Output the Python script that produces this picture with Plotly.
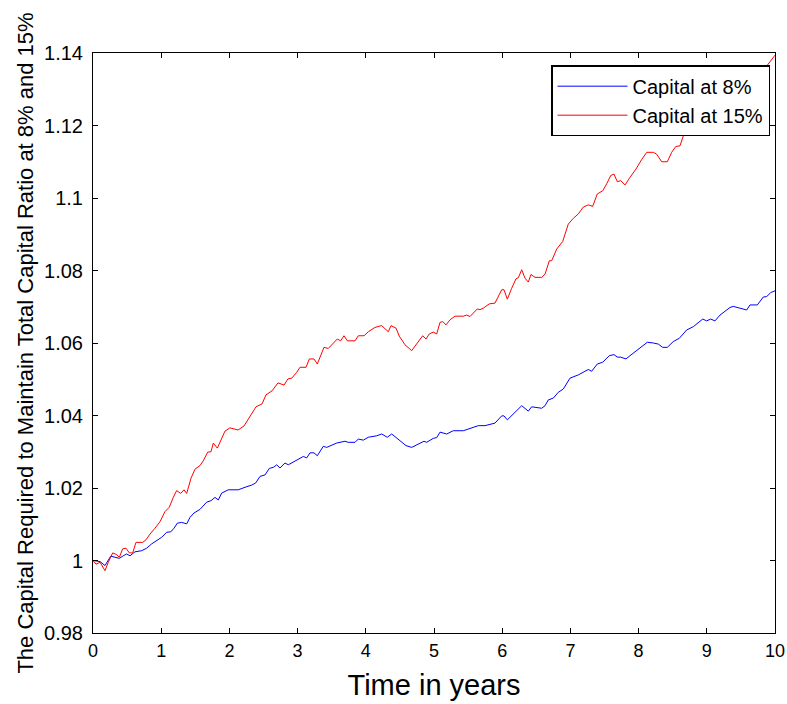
import plotly.graph_objects as go

# Time (years) and capital values for the 8% series
t_8 = [0, 0.044, 0.103, 0.176, 0.260, 0.323, 0.386, 0.444, 0.494, 0.543,
       0.616, 0.714, 0.787, 0.861, 0.934, 1.007, 1.081, 1.139, 1.188, 1.236,
       1.301, 1.374, 1.422, 1.481, 1.569, 1.667, 1.730, 1.789, 1.837, 1.887,
       1.984, 2.130, 2.229, 2.327, 2.386, 2.449, 2.522, 2.585, 2.644, 2.694,
       2.742, 2.815, 2.864, 3.010, 3.084, 3.133, 3.182, 3.240, 3.289, 3.377,
       3.427, 3.573, 3.647, 3.695, 3.743, 3.842, 3.890, 3.963, 4.037, 4.160,
       4.233, 4.315, 4.380, 4.501, 4.589, 4.673, 4.770, 4.853, 4.893, 4.990,
       5.040, 5.088, 5.186, 5.283, 5.430, 5.503, 5.650, 5.748, 5.894, 5.993,
       6.026, 6.075, 6.202, 6.286, 6.383, 6.432, 6.579, 6.628, 6.676, 6.749,
       6.823, 6.896, 6.994, 7.116, 7.214, 7.262, 7.312, 7.394, 7.474, 7.570,
       7.639, 7.688, 7.738, 7.815, 7.874, 7.972, 8.128, 8.216, 8.289, 8.353,
       8.421, 8.509, 8.597, 8.705, 8.802, 8.940, 8.999, 9.057, 9.120, 9.194,
       9.340, 9.389, 9.512, 9.585, 9.633, 9.741, 9.829, 9.878, 9.937, 10.0]
capital_8 = [1.0000, 0.9999, 0.9997, 0.9986, 1.0012, 1.0009, 1.0006, 1.0013, 1.0018, 1.0013,
             1.0024, 1.0027, 1.0034, 1.0046, 1.0055, 1.0064, 1.0078, 1.0079, 1.0089, 1.0103,
             1.0105, 1.0101, 1.0119, 1.0131, 1.0141, 1.0161, 1.0165, 1.0174, 1.0167, 1.0186,
             1.0195, 1.0195, 1.0202, 1.0208, 1.0214, 1.0232, 1.0236, 1.0254, 1.0257, 1.0264,
             1.0255, 1.0269, 1.0264, 1.0280, 1.0287, 1.0283, 1.0297, 1.0297, 1.0289, 1.0315,
             1.0312, 1.0324, 1.0326, 1.0329, 1.0326, 1.0326, 1.0335, 1.0332, 1.0340, 1.0344,
             1.0349, 1.0340, 1.0349, 1.0330, 1.0317, 1.0312, 1.0321, 1.0329, 1.0326, 1.0337,
             1.0339, 1.0354, 1.0349, 1.0358, 1.0358, 1.0363, 1.0372, 1.0372, 1.0379, 1.0399,
             1.0399, 1.0388, 1.0413, 1.0427, 1.0412, 1.0424, 1.0420, 1.0427, 1.0443, 1.0448,
             1.0464, 1.0473, 1.0503, 1.0512, 1.0522, 1.0527, 1.0522, 1.0542, 1.0547, 1.0565,
             1.0568, 1.0561, 1.0561, 1.0556, 1.0565, 1.0579, 1.0602, 1.0600, 1.0597, 1.0588,
             1.0588, 1.0604, 1.0613, 1.0636, 1.0645, 1.0666, 1.0661, 1.0666, 1.0661, 1.0677,
             1.0698, 1.0701, 1.0695, 1.0691, 1.0705, 1.0705, 1.0727, 1.0728, 1.0739, 1.0744]

# Time (years) and capital values for the 15% series
t_15 = [0, 0.044, 0.103, 0.176, 0.224, 0.289, 0.348, 0.386, 0.435, 0.484,
        0.532, 0.582, 0.630, 0.729, 0.777, 0.836, 0.909, 0.982, 1.056, 1.119,
        1.177, 1.227, 1.286, 1.334, 1.374, 1.437, 1.496, 1.569, 1.617, 1.682,
        1.730, 1.764, 1.823, 1.877, 1.935, 2.009, 2.126, 2.214, 2.302, 2.390,
        2.478, 2.537, 2.625, 2.713, 2.801, 2.859, 2.914, 2.987, 3.035, 3.123,
        3.172, 3.240, 3.289, 3.387, 3.450, 3.582, 3.632, 3.680, 3.729, 3.842,
        3.890, 3.974, 4.037, 4.135, 4.233, 4.330, 4.370, 4.443, 4.491, 4.575,
        4.673, 4.746, 4.834, 4.883, 4.931, 4.990, 5.040, 5.088, 5.128, 5.176,
        5.235, 5.308, 5.430, 5.479, 5.528, 5.635, 5.674, 5.723, 5.811, 5.894,
        5.993, 6.026, 6.075, 6.139, 6.202, 6.236, 6.286, 6.334, 6.383, 6.422,
        6.481, 6.579, 6.628, 6.691, 6.726, 6.799, 6.887, 6.969, 7.043, 7.116,
        7.189, 7.262, 7.327, 7.394, 7.474, 7.532, 7.591, 7.639, 7.688, 7.738,
        7.801, 7.874, 7.962, 8.045, 8.119, 8.216, 8.265, 8.339, 8.421, 8.485,
        8.544, 8.607, 8.655, 8.724, 8.900, 9.194, 9.487, 9.780, 9.916, 10.0]
capital_15 = [1.0000, 0.9990, 0.9995, 0.9972, 0.9995, 1.0021, 1.0016, 1.0009, 1.0032, 1.0034,
              1.0021, 1.0021, 1.0050, 1.0050, 1.0057, 1.0073, 1.0089, 1.0107, 1.0135, 1.0147,
              1.0174, 1.0193, 1.0185, 1.0195, 1.0185, 1.0227, 1.0252, 1.0262, 1.0275, 1.0299,
              1.0300, 1.0324, 1.0310, 1.0335, 1.0357, 1.0366, 1.0360, 1.0371, 1.0396, 1.0424,
              1.0432, 1.0457, 1.0468, 1.0490, 1.0484, 1.0501, 1.0503, 1.0519, 1.0533, 1.0533,
              1.0556, 1.0556, 1.0542, 1.0588, 1.0585, 1.0611, 1.0606, 1.0620, 1.0606, 1.0606,
              1.0620, 1.0620, 1.0631, 1.0643, 1.0648, 1.0631, 1.0648, 1.0641, 1.0619, 1.0595,
              1.0579, 1.0597, 1.0620, 1.0611, 1.0625, 1.0630, 1.0625, 1.0657, 1.0659, 1.0650,
              1.0664, 1.0674, 1.0674, 1.0677, 1.0673, 1.0694, 1.0692, 1.0696, 1.0708, 1.0710,
              1.0747, 1.0747, 1.0721, 1.0751, 1.0777, 1.0780, 1.0802, 1.0779, 1.0768, 1.0789,
              1.0781, 1.0781, 1.0790, 1.0827, 1.0827, 1.0859, 1.0880, 1.0928, 1.0944, 1.0956,
              1.0975, 1.0981, 1.0977, 1.1011, 1.1020, 1.1039, 1.1062, 1.1066, 1.1045, 1.1048,
              1.1036, 1.1057, 1.1080, 1.1106, 1.1126, 1.1126, 1.1121, 1.1100, 1.1100, 1.1126,
              1.1142, 1.1144, 1.1171, 1.1195, 1.1212, 1.1245, 1.1286, 1.1340, 1.1372, 1.1394]

x_ticks = [0, 1, 2, 3, 4, 5, 6, 7, 8, 9, 10]
x_tick_labels = ["0", "1", "2", "3", "4", "5", "6", "7", "8", "9", "10"]
y_ticks = [0.98, 1.00, 1.02, 1.04, 1.06, 1.08, 1.10, 1.12, 1.14]
y_tick_labels = ["0.98", "1", "1.02", "1.04", "1.06", "1.08", "1.1", "1.12", "1.14"]

FONT = "Liberation Sans, Arial, sans-serif"

fig = go.Figure()
fig.add_trace(go.Scatter(x=t_8, y=capital_8, mode="lines", name="Capital at 8%",
                         line=dict(color="#0000ff", width=1)))
fig.add_trace(go.Scatter(x=t_15, y=capital_15, mode="lines", name="Capital at 15%",
                         line=dict(color="#ff0000", width=1)))

axis_common = dict(showgrid=False, zeroline=False, showline=True, linecolor="black",
                   linewidth=1, mirror="ticks", ticks="inside", ticklen=5,
                   tickcolor="black", tickwidth=1, automargin=False)

fig.update_xaxes(range=[0, 10], tickvals=x_ticks, ticktext=x_tick_labels,
                 tickfont=dict(family=FONT, size=18, color="black"),
                 title=dict(text="Time in years", font=dict(family=FONT, size=29, color="black"),
                            standoff=15),
                 ticklabelstandoff=1, **axis_common)
fig.update_yaxes(range=[0.98, 1.14], tickvals=y_ticks, ticktext=y_tick_labels,
                 tickfont=dict(family=FONT, size=20, color="black"),
                 title=dict(text="The Capital Required to Maintain Total Capital Ratio at 8% and 15%",
                            font=dict(family=FONT, size=22, color="black"), standoff=4),
                 ticklabelstandoff=5, **axis_common)

fig.update_layout(
    width=787, height=704,
    margin=dict(l=93, r=12, t=53, b=71),
    paper_bgcolor="white", plot_bgcolor="white",
    showlegend=True,
    legend=dict(x=0.9927, y=0.979, xanchor="right", yanchor="top",
                bgcolor="white", bordercolor="black", borderwidth=1.5,
                font=dict(family=FONT, size=20, color="black"),
                itemwidth=70, tracegroupgap=0),
)

# Remove the page's default body margin so the figure fills the window exactly.
fig.write_html("out.html",
               config={"displayModeBar": False},
               post_script="document.body.style.margin='0';document.body.style.overflow='hidden';")
